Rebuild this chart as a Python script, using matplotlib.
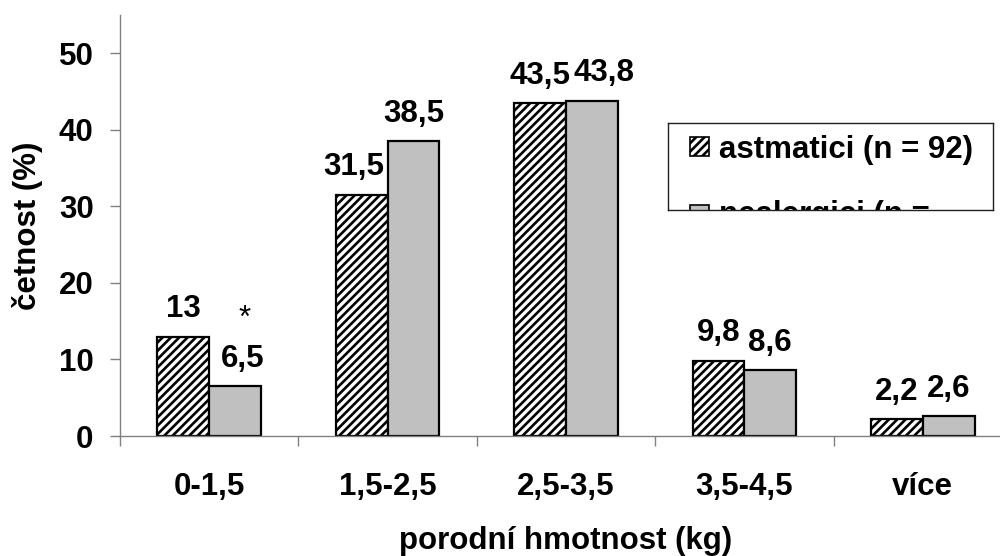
import matplotlib
matplotlib.use("Agg")
from matplotlib import pyplot as plt
import numpy as np

# data
categories = ['0-1,5', '1,5-2,5', '2,5-3,5', '3,5-4,5', 'více']
astmatici = [13, 31.5, 43.5, 9.8, 2.2]
nealergici = [6.5, 38.5, 43.8, 8.6, 2.6]
series_names = ['astmatici (n = 92)', 'nealergici (n =']

# small horizontal nudges of the value labels (category units), as in the original
nudge_a = [0, -0.045, 0, 0, 0]
nudge_n = [0.04, 0, 0.07, 0, 0]

plt.rcParams['font.family'] = ['Liberation Sans', 'DejaVu Sans']
plt.rcParams['font.weight'] = 'bold'
plt.rcParams['hatch.linewidth'] = 1.9
plt.rcParams['hatch.color'] = 'black'

fsize = 22.5
grey_axis = '#808080'
bar_w = 0.29

fig = plt.figure(figsize=(10, 5.56), dpi=100)
ax = fig.add_axes([0.12, 0.2158, 0.892, 0.757])

x = np.arange(len(categories))
ax.bar(x - bar_w / 2, astmatici, bar_w, color='white', edgecolor='black',
       hatch='////', linewidth=1.6, zorder=2)
ax.bar(x + bar_w / 2, nealergici, bar_w, color='#C0C0C0', edgecolor='black',
       linewidth=1.6, zorder=2)

def fmt(v):
    return ('%g' % v).replace('.', ',')

for i in range(len(categories)):
    ax.text(x[i] - bar_w / 2 + nudge_a[i], astmatici[i] + 3.6, fmt(astmatici[i]),
            ha='center', va='center', fontsize=fsize, fontweight='bold')
    ax.text(x[i] + bar_w / 2 + nudge_n[i], nealergici[i] + 3.6, fmt(nealergici[i]),
            ha='center', va='center', fontsize=fsize, fontweight='bold')

# significance mark over the first group
ax.text(x[0] + 0.2, 14.2, '*', ha='center', va='baseline', fontsize=fsize,
        fontweight='normal')

ax.set_xlim(-0.5, len(categories) - 0.5)
ax.set_ylim(0, 55)
ax.set_yticks([0, 10, 20, 30, 40, 50])
ax.set_xticks(x)
ax.set_xticklabels(categories)
ax.set_xticks(np.arange(len(categories) + 1) - 0.5, minor=True)

ax.tick_params(axis='y', direction='out', length=7, width=1, color=grey_axis,
               labelsize=fsize, pad=12)
ax.tick_params(axis='x', which='major', length=0, labelsize=fsize, pad=26)
ax.tick_params(axis='x', which='minor', direction='out', length=7, width=1,
               color=grey_axis)

for side in ['top', 'right']:
    ax.spines[side].set_visible(False)
for side in ['left', 'bottom']:
    ax.spines[side].set_color(grey_axis)
    ax.spines[side].set_linewidth(1)

ax.set_ylabel('četnost (%)', fontsize=fsize, fontweight='bold')
ax.set_xlabel('porodní hmotnost (kg)', fontsize=fsize, fontweight='bold', va='top')
ax.yaxis.set_label_coords(-0.086, 0.5)
ax.xaxis.set_label_coords(0.5, -0.214)

# legend box: a small axes so that the clipped second entry is cut like the original
lg = fig.add_axes([0.668, (556 - 210) / 556, 0.325, 87 / 556])
lg.set_xlim(0, 325)
lg.set_ylim(87, 0)
lg.set_xticks([])
lg.set_yticks([])
for s in lg.spines.values():
    s.set_color('#202020')
    s.set_linewidth(1)
lg.add_patch(plt.Rectangle((22, 14), 19, 19, facecolor='white', edgecolor='black',
                           hatch='////', linewidth=1.2, clip_on=True))
lg.text(51, 35, series_names[0], ha='left', va='baseline', fontsize=fsize,
        fontweight='bold', clip_on=True)
lg.add_patch(plt.Rectangle((22, 82), 19, 19, facecolor='#C0C0C0', edgecolor='black',
                           linewidth=1.2, clip_on=True))
lg.text(51, 100.5, series_names[1], ha='left', va='baseline', fontsize=fsize,
        fontweight='bold', clip_on=True)

fig.savefig('out.png', dpi=100)
